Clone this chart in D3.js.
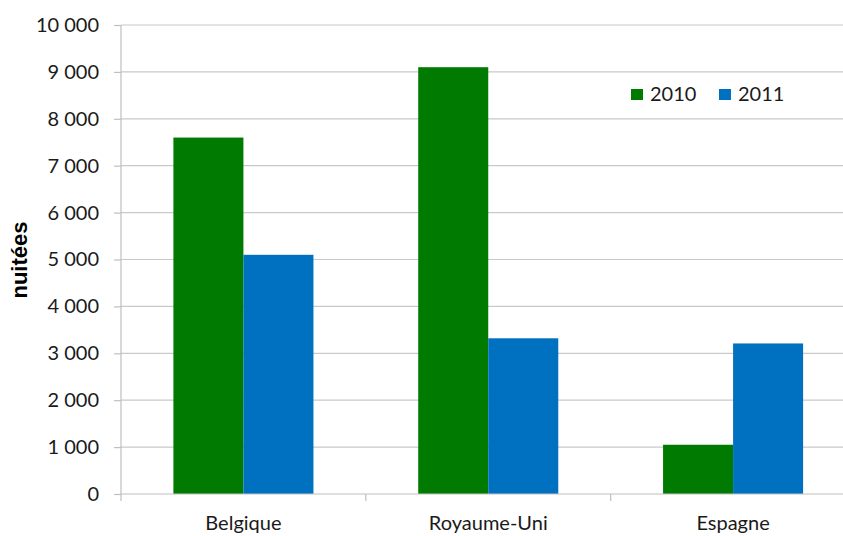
<!DOCTYPE html>
<html><head><meta charset="utf-8">
<script src="https://cdn.jsdelivr.net/npm/d3@7"></script>
<style>body{margin:0;background:#fff}svg{display:block}</style>
</head><body>
<svg id="c" width="843" height="536"></svg>
<script>
const categories = ["Belgique", "Royaume-Uni", "Espagne"];
const seriesNames = ["2010", "2011"];
const values2010 = [7600, 9100, 1050];
const values2011 = [5100, 3320, 3210];
const yTicks = [0, 1000, 2000, 3000, 4000, 5000, 6000, 7000, 8000, 9000, 10000];
const colors = ["#007A00", "#0070C0"];

(function () {
const svg = d3.select("#c");
const pLeft = 121, pRight = 855.5, pTop = 25, pBottom = 494;
const font = "Lato, 'Gill Sans', sans-serif";

const y = d3.scaleLinear().domain([0, 10000]).range([pBottom, pTop]);
const x0 = d3.scaleBand().domain(categories).range([pLeft, pRight]).paddingInner(0.428).paddingOuter(0.214);
const x1 = d3.scaleBand().domain(seriesNames).range([0, x0.bandwidth()]);
const fmt = v => d3.format(",")(v).replace(/,/g, " ");

// gridlines
svg.append("g").selectAll("line").data(yTicks.filter(d => d > 0)).join("line")
  .attr("x1", pLeft).attr("x2", pRight).attr("y1", d => y(d)).attr("y2", d => y(d))
  .attr("stroke", "#c9c9c9").attr("stroke-width", 1.2);

// bars
const data = categories.map((c, i) => ({c, vals: [values2010[i], values2011[i]]}));
const g = svg.append("g").selectAll("g").data(data).join("g")
  .attr("transform", d => `translate(${x0(d.c)},0)`);
g.selectAll("rect").data(d => d.vals.map((v, j) => ({s: seriesNames[j], v, j}))).join("rect")
  .attr("x", d => x1(d.s)).attr("width", x1.bandwidth())
  .attr("y", d => y(d.v)).attr("height", d => y(0) - y(d.v))
  .attr("fill", d => colors[d.j]);

// y axis
const yAxis = d3.axisLeft(y).tickValues(yTicks).tickFormat(fmt).tickSize(7).tickPadding(15);
const ya = svg.append("g").attr("transform", `translate(${pLeft},0)`).call(yAxis);
ya.select(".domain").attr("stroke", "#bfbfbf").attr("stroke-width", 1.2).attr("d", `M0,${pTop}V${pBottom}`);
ya.selectAll(".tick line").attr("stroke", "#bfbfbf").attr("stroke-width", 1.2);
ya.selectAll(".tick text").attr("font-family", font).attr("font-size", 20).attr("fill", "#1a1a1a");

// x axis
const xa = svg.append("g").attr("transform", `translate(0,${pBottom})`);
xa.append("line").attr("x1", pLeft).attr("x2", pRight).attr("stroke", "#bfbfbf").attr("stroke-width", 1.2);
const step = x0.step();
const boundaries = [0, 1, 2, 3].map(i => pLeft + i * step);
xa.selectAll("line.t").data(boundaries).join("line").attr("class", "t")
  .attr("x1", d => d).attr("x2", d => d).attr("y1", 0).attr("y2", 7)
  .attr("stroke", "#bfbfbf").attr("stroke-width", 1.2);
xa.selectAll("text").data(categories).join("text")
  .attr("x", d => x0(d) + x0.bandwidth() / 2).attr("y", 36)
  .attr("text-anchor", "middle").attr("font-family", font).attr("font-size", 20).attr("fill", "#1a1a1a")
  .text(d => d);

// y label
svg.append("text").attr("transform", "translate(27,260) rotate(-90)")
  .attr("text-anchor", "middle").attr("font-family", "'Liberation Sans', Arial, sans-serif")
  .attr("font-weight", "bold").attr("font-size", 22).attr("fill", "#000").text("nuitées");

// legend
const legX = [631, 719];
const lg = svg.append("g").selectAll("g").data(seriesNames).join("g")
  .attr("transform", (d, i) => `translate(${legX[i]},89)`);
lg.append("rect").attr("width", 12).attr("height", 11).attr("fill", (d, i) => colors[i]);
lg.append("text").attr("x", 19).attr("y", 12).attr("font-family", font).attr("font-size", 20)
  .attr("fill", "#1a1a1a").text(d => d);
})();
</script>
</body></html>
